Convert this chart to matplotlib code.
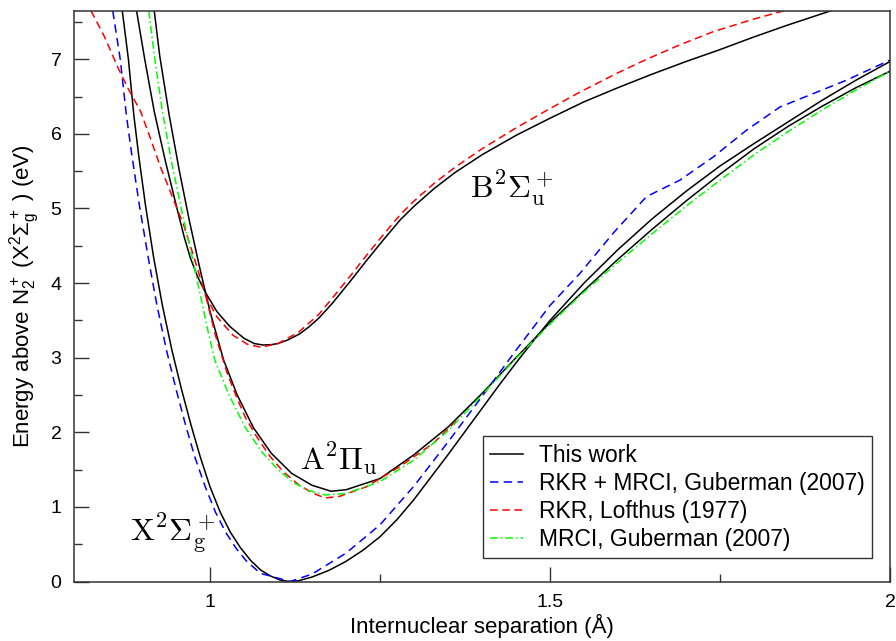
import numpy as np
import matplotlib
matplotlib.use("Agg")
import matplotlib.pyplot as plt
from matplotlib.ticker import MultipleLocator

plt.rcParams['font.family'] = ['Liberation Sans', 'DejaVu Sans']
plt.rcParams['mathtext.fontset'] = 'custom'
plt.rcParams['mathtext.rm'] = 'Liberation Sans'
plt.rcParams['mathtext.it'] = 'Liberation Sans:italic'
plt.rcParams['mathtext.bf'] = 'Liberation Sans:bold'

# X state, this work
x_X = [0.871, 0.880, 0.888, 0.895, 0.905, 0.917, 0.930, 0.944, 0.958, 0.972, 0.986, 1.000,
       1.015, 1.030, 1.045, 1.060, 1.075, 1.090, 1.103, 1.116, 1.130, 1.150, 1.175, 1.200,
       1.225, 1.250, 1.275, 1.300, 1.325, 1.350, 1.375, 1.400, 1.425, 1.450, 1.475, 1.500,
       1.550, 1.600, 1.650, 1.700, 1.750, 1.800, 1.850, 1.900, 1.950, 2.000]
y_X = [7.65, 7.00, 6.25, 5.72, 5.05, 4.35, 3.70, 3.10, 2.58, 2.10, 1.66, 1.27,
       0.93, 0.66, 0.45, 0.28, 0.15, 0.07, 0.02, 0.00, 0.01, 0.06, 0.15, 0.27,
       0.42, 0.60, 0.83, 1.10, 1.40, 1.70, 2.01, 2.32, 2.63, 2.93, 3.22, 3.50,
       4.00, 4.45, 4.86, 5.23, 5.57, 5.87, 6.16, 6.45, 6.72, 6.97]

# A state, this work
x_A = [0.918, 0.926, 0.940, 0.955, 0.970, 0.985, 1.000, 1.020, 1.040, 1.064, 1.090, 1.120,
       1.150, 1.178, 1.200, 1.250, 1.300, 1.350, 1.400, 1.450, 1.500, 1.550, 1.600, 1.650,
       1.700, 1.750, 1.800, 1.850, 1.900, 1.950, 2.000]
y_A = [7.65, 7.05, 6.25, 5.50, 4.82, 4.20, 3.62, 2.97, 2.50, 2.06, 1.72, 1.45,
       1.29, 1.21, 1.23, 1.38, 1.70, 2.07, 2.52, 3.00, 3.47, 3.90, 4.32, 4.72,
       5.10, 5.46, 5.80, 6.10, 6.37, 6.62, 6.84]

# B state, this work
x_B = [0.892, 0.904, 0.918, 0.934, 0.952, 0.962, 0.971, 0.982, 0.993, 1.010, 1.029, 1.050,
       1.065, 1.078, 1.090, 1.100, 1.115, 1.132, 1.145, 1.160, 1.180, 1.205, 1.230, 1.255,
       1.280, 1.300, 1.330, 1.360, 1.400, 1.450, 1.500, 1.550, 1.600, 1.650, 1.700, 1.750,
       1.800, 1.850, 1.913]
y_B = [7.65, 7.00, 6.30, 5.65, 4.98, 4.62, 4.34, 4.08, 3.88, 3.62, 3.42, 3.26,
       3.19, 3.17, 3.175, 3.19, 3.24, 3.32, 3.41, 3.53, 3.73, 4.01, 4.30, 4.58,
       4.85, 5.03, 5.27, 5.48, 5.72, 5.98, 6.21, 6.43, 6.62, 6.80, 6.97, 7.13,
       7.30, 7.46, 7.65]

# RKR + MRCI, Guberman (2007), X state
x_guber_X = [0.857, 0.868, 0.877, 0.885, 0.896, 0.909, 0.922, 0.936, 0.950, 0.964, 0.978, 0.993,
             1.008, 1.023, 1.038, 1.053, 1.074, 1.118, 1.150, 1.200, 1.250, 1.300, 1.350, 1.400,
             1.450, 1.500, 1.544, 1.593, 1.642, 1.691, 1.740, 1.789, 1.838, 1.887, 1.936, 2.000]
y_guber_X = [7.65, 7.00, 6.25, 5.72, 5.05, 4.35, 3.70, 3.10, 2.58, 2.10, 1.66, 1.27,
             0.93, 0.66, 0.45, 0.28, 0.11, 0.00, 0.10, 0.38, 0.76, 1.28, 1.87, 2.48,
             3.10, 3.70, 4.13, 4.67, 5.16, 5.38, 5.69, 6.05, 6.36, 6.54, 6.72, 6.99]

# RKR, Lofthus (1977), B state
x_loft_B = [0.825, 0.845, 0.864, 0.880, 0.898, 0.912, 0.927, 0.945, 0.962, 0.978, 0.994, 1.010,
            1.034, 1.055, 1.075, 1.100, 1.130, 1.160, 1.180, 1.205, 1.230, 1.255, 1.280, 1.300,
            1.330, 1.360, 1.400, 1.450, 1.500, 1.544, 1.600, 1.642, 1.690, 1.740, 1.800, 1.848]
y_loft_B = [7.65, 7.30, 6.90, 6.60, 6.30, 5.95, 5.56, 5.15, 4.76, 4.30, 3.82, 3.55,
            3.30, 3.18, 3.14, 3.19, 3.34, 3.58, 3.80, 4.08, 4.37, 4.65, 4.92, 5.10,
            5.34, 5.55, 5.80, 6.08, 6.34, 6.56, 6.82, 7.00, 7.19, 7.37, 7.54, 7.66]

# RKR, Lofthus (1977), A state
x_loft_A = [0.994, 1.008, 1.025, 1.040, 1.052, 1.068, 1.088, 1.108, 1.130, 1.150, 1.169, 1.190,
            1.230, 1.279, 1.328, 1.363]
y_loft_A = [3.82, 3.30, 2.80, 2.45, 2.20, 1.95, 1.68, 1.47, 1.30, 1.19, 1.12, 1.14,
            1.27, 1.54, 1.85, 2.16]

# MRCI, Guberman (2007), A state
x_mrci_A = [0.910, 0.919, 0.930, 0.944, 0.960, 0.975, 0.985, 0.996, 1.007, 1.028, 1.051, 1.075,
            1.100, 1.122, 1.145, 1.169, 1.200, 1.250, 1.300, 1.350, 1.400, 1.450, 1.500,
            1.550, 1.600, 1.650, 1.700, 1.750, 1.800, 1.850, 1.900, 1.950, 2.000]
y_mrci_A = [7.65, 6.99, 6.30, 5.60, 4.90, 4.30, 3.87, 3.40, 2.97, 2.50, 2.08, 1.75,
            1.50, 1.33, 1.22, 1.16, 1.18, 1.34, 1.63, 2.02, 2.50, 2.99, 3.45,
            3.88, 4.28, 4.66, 5.03, 5.38, 5.72, 6.03, 6.32, 6.59, 6.84]

fig = plt.figure(figsize=(8.96, 6.41), dpi=100)
ax = fig.add_axes([0.0826, 0.0928, 0.9107, 0.8900])

lw = 1.1
ax.plot(x_X, y_X, color='black', lw=lw, label='This work')
ax.plot(x_A, y_A, color='black', lw=lw)
ax.plot(x_B, y_B, color='black', lw=lw)
ax.plot(x_guber_X, y_guber_X, color='#0000ff', lw=lw, dashes=(5.5, 3.5),
        label='RKR + MRCI, Guberman (2007)')
ax.plot(x_loft_B, y_loft_B, color='#ff0000', lw=lw, dashes=(5, 3),
        label='RKR, Lofthus (1977)')
ax.plot(x_loft_A, y_loft_A, color='#ff0000', lw=lw, dashes=(5, 3))
ax.plot(x_mrci_A, y_mrci_A, color='#00ff00', lw=lw, dashes=(5, 2, 1, 2),
        label='MRCI, Guberman (2007)')

ax.set_xlim(0.8, 2.0)
ax.set_ylim(0, 7.647)
ax.xaxis.set_minor_locator(MultipleLocator(0.25))
ax.yaxis.set_major_locator(MultipleLocator(1))
ax.yaxis.set_minor_locator(MultipleLocator(0.5))
ax.set_xticks([1.0, 1.5, 2.0])
ax.set_xticklabels(['1', '1.5', '2'])
ax.tick_params(which='both', direction='in', top=False, right=False, labelsize=14,
               width=1, color='#333333', pad=9)
ax.tick_params(which='major', length=11)
ax.tick_params(which='minor', length=6)
for s in ax.spines.values():
    s.set_color('#333333')
    s.set_linewidth(1.1)

ax.set_xlabel('Internuclear separation (Å)', fontsize=16, labelpad=2)
ax.set_ylabel(r'Energy above N$_2^+$ (X$^2\Sigma_\mathrm{g}^+$ ) (eV)', fontsize=16, labelpad=6)

ax.text(0.882, 0.55, r'$\mathrm{X}^2\Sigma_\mathrm{g}^+$', fontsize=23, math_fontfamily='cm')
ax.text(1.132, 1.50, r'$\mathrm{A}^2\Pi_\mathrm{u}$', fontsize=23, math_fontfamily='cm')
ax.text(1.383, 5.15, r'$\mathrm{B}^2\Sigma_\mathrm{u}^+$', fontsize=23, math_fontfamily='cm')

leg = ax.legend(loc='lower right', bbox_to_anchor=(0.978, 0.041), borderaxespad=0,
                fontsize=16.5, fancybox=False, edgecolor='#333333', framealpha=1,
                handlelength=1.44, handletextpad=0.7, labelspacing=0.22, borderpad=0.32)
leg.get_frame().set_linewidth(1.0)

fig.savefig('out.png', dpi=100)
